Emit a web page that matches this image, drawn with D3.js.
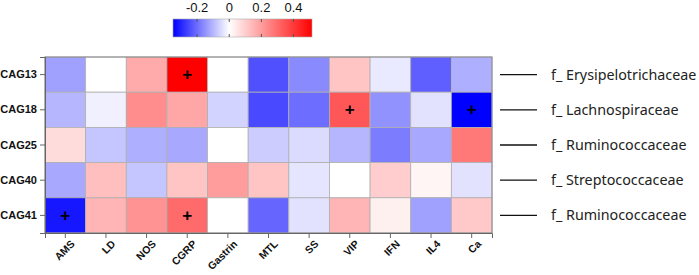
<!DOCTYPE html>
<html>
<head>
<meta charset="utf-8">
<script src="https://cdn.jsdelivr.net/npm/d3@7"></script>
<style>
  body { margin: 0; background: #fff; }
  svg { display: block; }
</style>
</head>
<body>
<script>
const width = 699,
    height = 275;

const rows = ['CAG13', 'CAG18', 'CAG25', 'CAG40', 'CAG41'];
const cols = ['AMS', 'LD', 'NOS', 'CGRP', 'Gastrin', 'MTL', 'SS', 'VIP', 'IFN', 'IL4', 'Ca'];
const families = ['f_ Erysipelotrichaceae', 'f_ Lachnospiraceae', 'f_ Ruminococcaceae',
    'f_ Streptococcaceae', 'f_ Ruminococcaceae'];

const CAG13 = [-0.13, 0.0, 0.17, 0.52, 0.0, -0.24, -0.16, 0.12, -0.03, -0.22, -0.11];
const CAG18 = [-0.10, -0.02, 0.23, 0.18, -0.06, -0.25, -0.20, 0.34, -0.15, -0.04, -0.35];
const CAG25 = [0.07, -0.08, -0.11, -0.12, 0.0, -0.07, -0.05, -0.10, -0.18, -0.12, 0.27];
const CAG40 = [-0.12, 0.13, -0.08, 0.12, 0.20, 0.12, -0.035, 0.0, 0.10, 0.02, -0.04];
const CAG41 = [-0.32, 0.15, 0.22, 0.30, 0.0, -0.21, -0.04, 0.15, 0.03, -0.13, 0.11];
const values = [CAG13, CAG18, CAG25, CAG40, CAG41];

// significant cells: [row, col]
const marks = [['CAG13', 'CGRP'], ['CAG18', 'VIP'], ['CAG18', 'Ca'], ['CAG41', 'AMS'], ['CAG41', 'CGRP']];

const legendTicks = [-0.2, 0, 0.2, 0.4];
const colorDomain = [-0.35, 0, 0.515];

const color = d3.scaleLinear()
    .domain(colorDomain)
    .range(['#0000ff', '#ffffff', '#ff0000'])
    .clamp(true);

const mLeft = 45, mRight = 492, mTop = 57, mBottom = 233;

const x = d3.scaleBand().domain(cols).range([mLeft, mRight]);
const y = d3.scaleBand().domain(rows).range([mTop, mBottom]);

const svg = d3.select('body').append('svg')
    .attr('width', width)
    .attr('height', height);

const cells = [];
rows.forEach((r, i) => cols.forEach((c, j) => cells.push({row: r, col: c, v: values[i][j]})));

svg.append('g').selectAll('rect')
    .data(cells)
    .enter()
    .append('rect')
    .attr('x', d => x(d.col))
    .attr('y', d => y(d.row))
    .attr('width', x.bandwidth())
    .attr('height', y.bandwidth())
    .attr('fill', d => color(d.v))
    .attr('stroke', '#b0b0b0')
    .attr('stroke-width', 0.8);

svg.append('rect')
    .attr('x', mLeft).attr('y', mTop)
    .attr('width', mRight - mLeft).attr('height', mBottom - mTop)
    .attr('fill', 'none')
    .attr('stroke', '#888')
    .attr('stroke-width', 1);

svg.append('g').selectAll('text')
    .data(marks)
    .enter()
    .append('text')
    .attr('x', d => x(d[1]) + x.bandwidth() / 2)
    .attr('y', d => y(d[0]) + y.bandwidth() / 2)
    .attr('text-anchor', 'middle')
    .attr('dominant-baseline', 'central')
    .style('font', 'bold 17px "Liberation Sans", Arial, sans-serif')
    .attr('fill', '#000')
    .text('+');

// axes
const yAxis = svg.append('g')
    .attr('transform', 'translate(' + mLeft + ',0)')
    .call(d3.axisLeft(y).tickSize(5).tickPadding(3));
yAxis.selectAll('text')
    .style('font', 'bold 11px "Liberation Sans", Arial, sans-serif')
    .attr('fill', '#111');

const xAxis = svg.append('g')
    .attr('transform', 'translate(0,' + mBottom + ')')
    .call(d3.axisBottom(x).tickSize(5).tickPadding(3));
xAxis.selectAll('text')
    .style('font', 'bold 10.5px "Liberation Sans", Arial, sans-serif')
    .attr('fill', '#111')
    .attr('text-anchor', 'end')
    .attr('dx', '-0.1em')
    .attr('dy', '0.7em')
    .attr('transform', 'rotate(-45)');

[yAxis, xAxis].forEach(a => {
    a.select('.domain').attr('stroke', '#666');
    a.selectAll('.tick line').attr('stroke', '#666');
});

// family labels
const fam = svg.append('g').selectAll('g')
    .data(rows)
    .enter()
    .append('g')
    .attr('transform', (d, i) => 'translate(0,' + (y(d) + y.bandwidth() / 2) + ')');

fam.append('line')
    .attr('x1', 500).attr('x2', 537)
    .attr('stroke', '#111')
    .attr('stroke-width', 1.3);

fam.append('text')
    .attr('x', 551)
    .attr('dy', '0.35em')
    .style('font', '14.3px "Noto Sans", "Open Sans", sans-serif')
    .attr('fill', '#222')
    .text((d, i) => families[i]);

// colour legend
const lx = d3.scaleLinear().domain([colorDomain[0], colorDomain[2]]).range([173, 312]);
const defs = svg.append('defs');
const grad = defs.append('linearGradient').attr('id', 'lg');
colorDomain.forEach(v => {
    grad.append('stop')
        .attr('offset', (lx(v) - 173) / (312 - 173))
        .attr('stop-color', color(v));
});

svg.append('rect')
    .attr('x', 173).attr('y', 19)
    .attr('width', 312 - 173).attr('height', 18)
    .attr('fill', 'url(#lg)')
    .attr('stroke', '#aaa')
    .attr('stroke-width', 0.6);

const leg = svg.append('g').selectAll('g')
    .data(legendTicks)
    .enter()
    .append('g')
    .attr('transform', d => 'translate(' + lx(d) + ',0)');

leg.append('line').attr('y1', 19).attr('y2', 22).attr('stroke', '#555');
leg.append('line').attr('y1', 34).attr('y2', 37).attr('stroke', '#555');
leg.append('text')
    .attr('y', 12)
    .attr('text-anchor', 'middle')
    .style('font', '13px "Liberation Sans", Arial, sans-serif')
    .attr('fill', '#111')
    .text(d => d === 0 ? '0' : String(d));
</script>
</body>
</html>
